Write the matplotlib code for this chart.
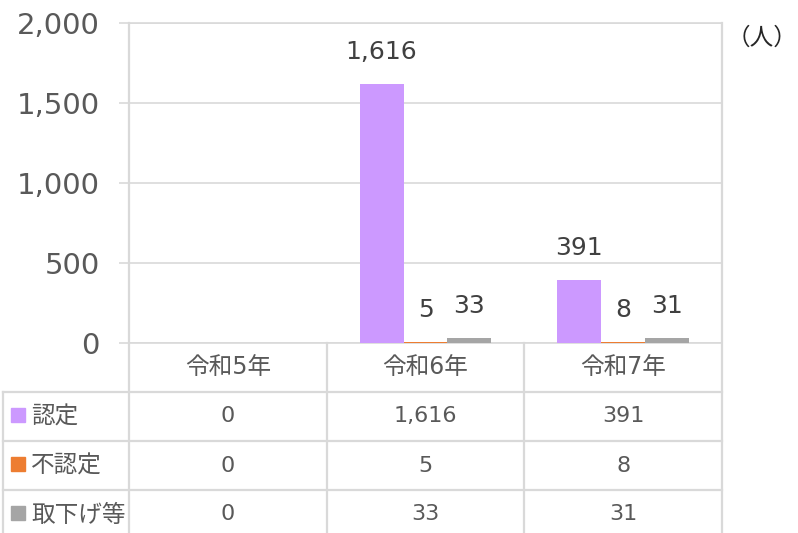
import matplotlib
matplotlib.use("Agg")
import matplotlib.pyplot as plt
import numpy as np

plt.rcParams["font.family"] = ["DejaVu Sans", "Noto Sans CJK JP"]

years = ["令和5年", "令和6年", "令和7年"]
series_names = ["認定", "不認定", "取下げ等"]
nintei = [0, 1616, 391]
funintei = [0, 5, 8]
torisage = [0, 33, 31]
series_colors = ["#CC99FF", "#ED7D31", "#A5A5A5"]

TEXT = "#595959"
GRID = "#D9D9D9"
W, H = 798, 533

fig = plt.figure(figsize=(W / 100, H / 100), dpi=100)

# plot area in pixel terms (left, right, top, bottom)
px_l, px_r, px_t, px_b = 129, 722, 23, 343
ax = fig.add_axes([px_l / W, (H - px_b) / H, (px_r - px_l) / W, (px_b - px_t) / H])

x = np.arange(len(years))
bw = 0.222
all_series = [nintei, funintei, torisage]
for k, (vals, col) in enumerate(zip(all_series, series_colors)):
    pos = x + (k - 1) * bw
    ax.bar(pos, vals, width=bw, color=col, zorder=3)
    for xi, v in zip(pos, vals):
        if v > 0:
            ax.annotate(f"{v:,}", (xi, v), xytext=(0, 23), textcoords="offset points",
                        ha="center", va="center", fontsize=18, color="#404040")

ax.set_xlim(-0.5, len(years) - 0.5)
ax.set_ylim(0, 2000)
ax.set_yticks([0, 500, 1000, 1500, 2000])
ax.set_yticklabels([f"{t:,}" for t in [0, 500, 1000, 1500, 2000]])
ax.yaxis.grid(True, color=GRID, linewidth=1.2, zorder=0)
ax.set_xticks([])
ax.tick_params(axis="y", length=7.2, width=1.2, color=GRID, labelsize=21,
               labelcolor=TEXT, pad=14)
for s in ax.spines.values():
    s.set_color(GRID)
    s.set_linewidth(1.2)

# unit label, placed in pixel terms so it stays inside the canvas
fig.text(762 / W, 1 - 38 / H, "（人）", ha="center", va="center",
         fontsize=17, color="#262626")

# data table drawn below the plot, in pixel coordinates
tab = fig.add_axes([0, 0, 1, 1], facecolor="none")
tab.set_xlim(0, W)
tab.set_ylim(H, 0)
tab.axis("off")

col_edges = [px_l + i * (px_r - px_l) / len(years) for i in range(len(years) + 1)]
row_h = 49
rows_y = [px_b + i * row_h for i in range(5)]
lw = 1.6
for i, y in enumerate(rows_y[1:4]):
    tab.plot([3, px_r], [y, y], color=GRID, lw=lw)
tab.plot([3, 3], [rows_y[1], H], color=GRID, lw=lw)
for i, xe in enumerate(col_edges):
    top = px_t if i in (0, len(col_edges) - 1) else px_b
    tab.plot([xe, xe], [top, H], color=GRID, lw=lw)

centers = [(col_edges[i] + col_edges[i + 1]) / 2 for i in range(len(years))]
for cx, yr in zip(centers, years):
    tab.text(cx, px_b + row_h / 2, yr, ha="center", va="center", fontsize=17, color=TEXT)

for r, (name, vals, col) in enumerate(zip(series_names, all_series, series_colors)):
    cy = rows_y[r + 1] + row_h / 2
    tab.add_patch(plt.Rectangle((11, cy - 9), 14, 14, color=col))
    tab.text(31, cy, name, ha="left", va="center", fontsize=17, color=TEXT)
    for cx, v in zip(centers, vals):
        tab.text(cx, cy, f"{v:,}", ha="center", va="center", fontsize=16, color=TEXT)

fig.savefig("out.png", dpi=100)
